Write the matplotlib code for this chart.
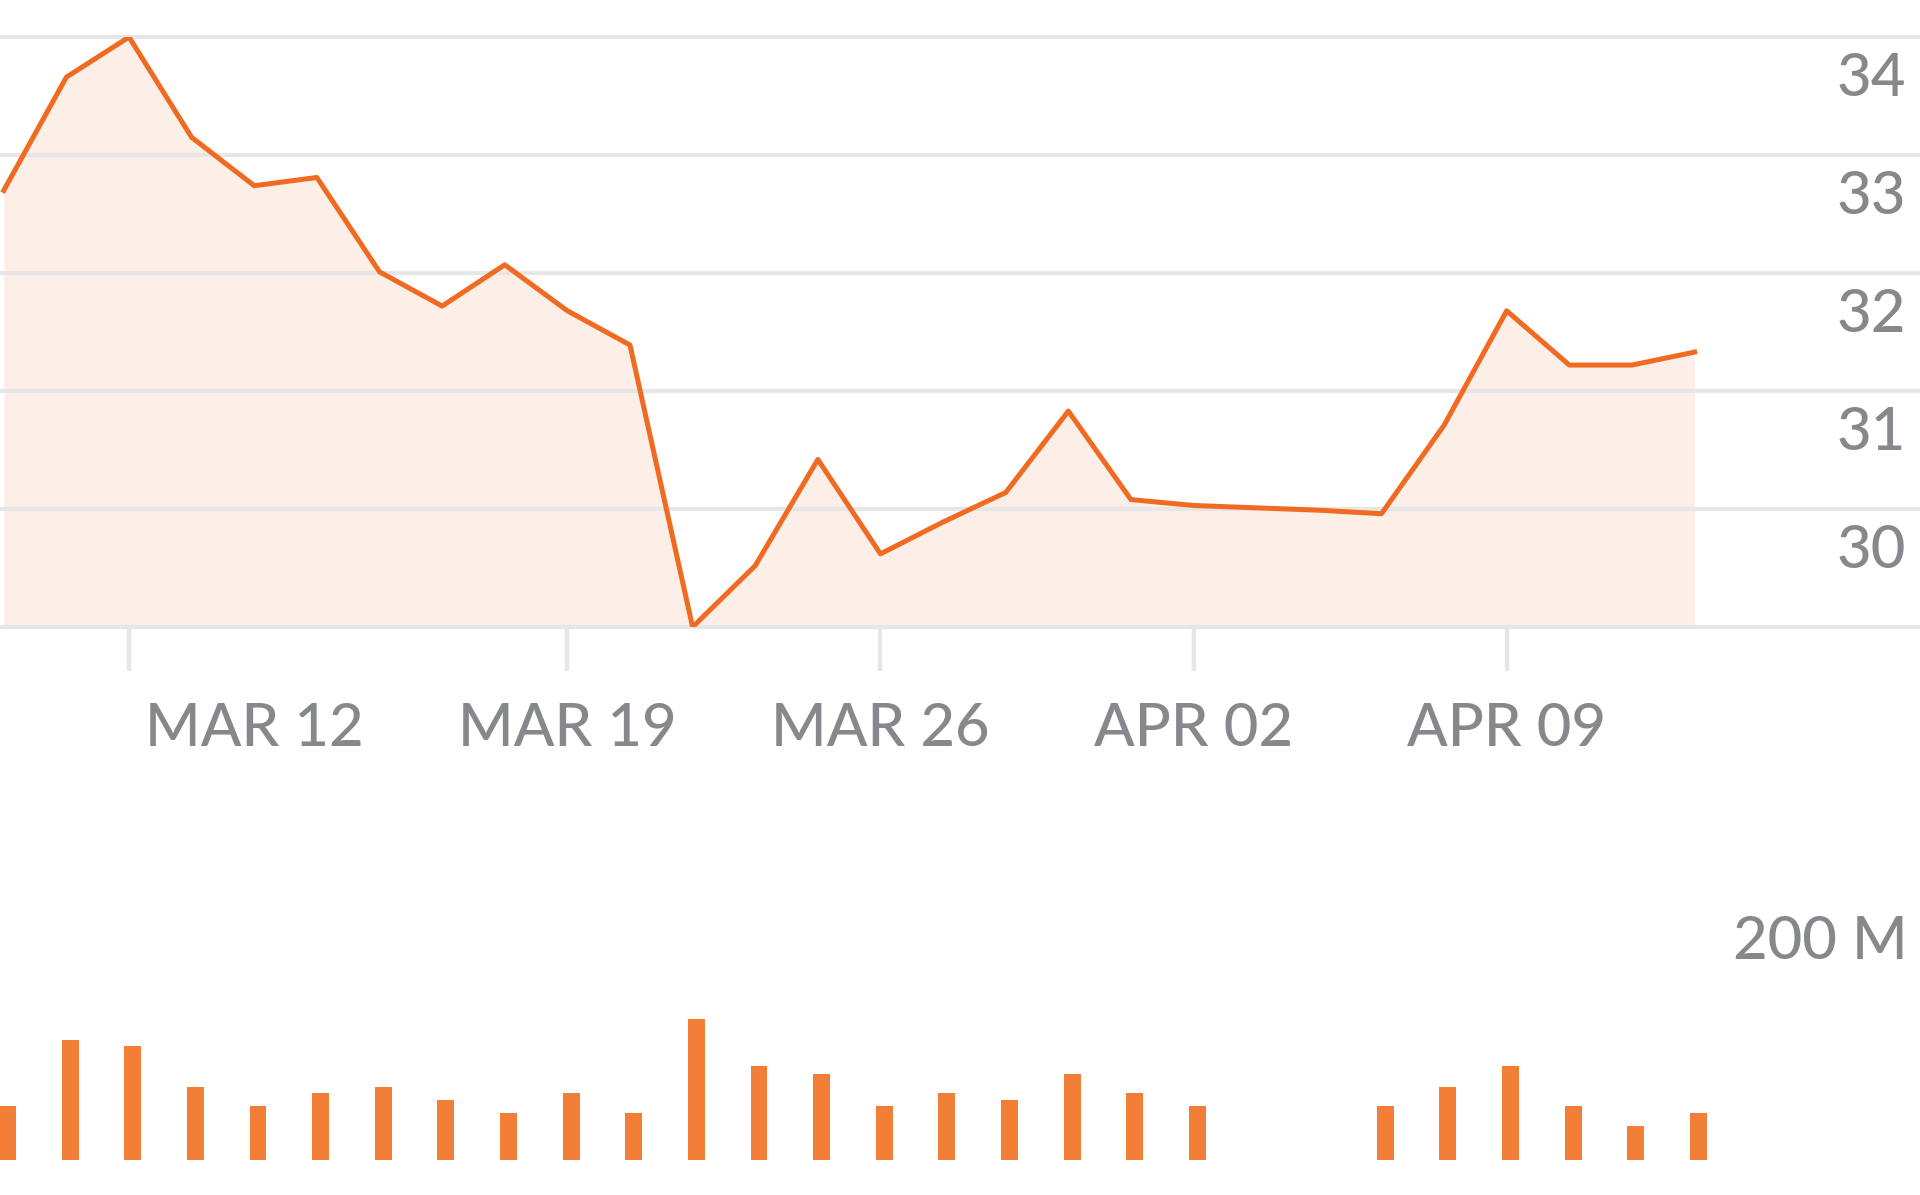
import numpy as np
import matplotlib
matplotlib.use('Agg')
import matplotlib.pyplot as plt

plt.rcParams['font.family'] = ['Lato', 'DejaVu Sans']

# closing price, one value per trading day
price = [32.70, 33.66, 34.00, 33.15, 32.74, 32.81, 32.01, 31.72, 32.07, 31.68,
         31.39, 29.00, 29.52, 30.42, 29.62, 29.89, 30.14, 30.83, 30.08, 30.03,
         30.01, 29.99, 29.96, 30.71, 31.68, 31.22, 31.22, 31.33]

# volume in millions (two days have no bar)
volume = [41, 92, 87, 56, 41, 51, 56, 46, 36, 51,
          36, 108, 72, 66, 41, 51, 46, 66, 51, 41,
          np.nan, np.nan, 41, 56, 72, 41, 26, 36]

price_ticks = [30, 31, 32, 33, 34]
grid_levels = [29, 30, 31, 32, 33, 34]
tick_days = [2, 9, 14, 19, 24]
label_days = [4, 9, 14, 19, 24]
date_labels = ['MAR 12', 'MAR 19', 'MAR 26', 'APR 02', 'APR 09']
vol_label = 200

orange = '#f06a22'
bar_col = '#f37e37'
fill_col = '#fcefe7'
grid_col = '#e6e6e6'
txt_col = '#86888b'

days = np.arange(len(price))
xlim = (-0.06, 30.6)

fig = plt.figure(figsize=(19.2, 11.95), dpi=100)
ax = fig.add_axes([0, 0.4753, 1, 0.4937])
axv = fig.add_axes([0, 0.0293, 1, 0.2184])

# price panel
ax.fill_between(days, price, 29, color=fill_col, lw=0, zorder=1)
for g in grid_levels:
    ax.axhline(g, color=grid_col, lw=3, zorder=2, clip_on=False)
ax.plot(days, price, color=orange, lw=3.6, zorder=3)
ax.set_xlim(*xlim)
ax.set_ylim(29, 34)
for s in ax.spines.values():
    s.set_visible(False)
ax.set_yticks([])
ax.xaxis.remove_overlapping_locs = False
ax.set_xticks(tick_days)
ax.set_xticklabels([''] * len(tick_days))
ax.tick_params(axis='x', which='major', length=32, width=3.2, color=grid_col)
ax.set_xticks(label_days, date_labels, minor=True)
ax.tick_params(axis='x', which='minor', length=0, pad=54, labelsize=43,
               labelcolor=txt_col)
for lbl in ax.get_xticklabels(minor=True):
    lbl.set_fontweight('medium')

for v in price_ticks:
    ax.annotate(str(v), xy=(1, v), xycoords=('axes fraction', 'data'),
                xytext=(-14, -15), textcoords='offset pixels',
                ha='right', va='top', fontsize=43, color=txt_col,
                fontweight='medium')

# volume panel
axv.bar(days + 0.06, volume, width=0.27, color=bar_col, lw=0)
axv.set_xlim(*xlim)
axv.set_ylim(0, vol_label)
axv.axis('off')
axv.annotate(f'{vol_label} M', xy=(1, vol_label), xycoords=('axes fraction', 'data'),
             xytext=(-12, -16), textcoords='offset pixels',
             ha='right', va='top', fontsize=43, color=txt_col,
             fontweight='medium', annotation_clip=False)

fig.savefig('out.png', dpi=100, facecolor='white')
